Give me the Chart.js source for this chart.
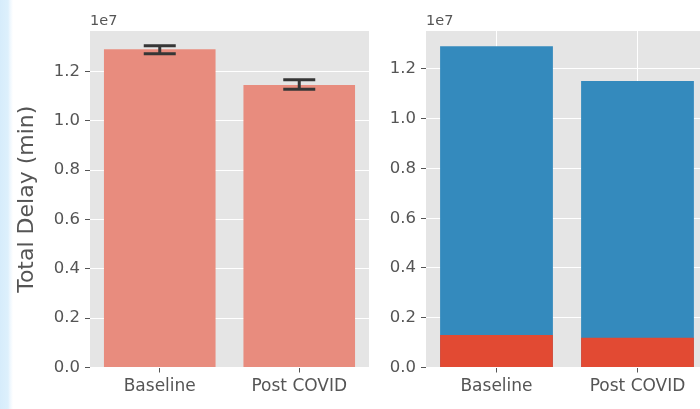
<!DOCTYPE html>
<html>
<head>
<meta charset="utf-8">
<script src="https://cdn.jsdelivr.net/npm/chart.js@4.4.0/dist/chart.umd.min.js"></script>
<style>
  html, body { margin: 0; padding: 0; width: 700px; height: 409px; overflow: hidden; background: #ffffff; }
  #strip { position: absolute; left: 0; top: 0; width: 14px; height: 409px;
           background: linear-gradient(to right, #d6ecfb 0px, #ddf0fc 8px, #eef7fe 10px, #ffffff 13px); }
  #c1 { position: absolute; left: 0; top: 0; }
  #c2 { position: absolute; left: 360px; top: 0; }
</style>
</head>
<body>
<div id="strip"></div>
<canvas id="c1" width="380" height="409"></canvas>
<canvas id="c2" width="360" height="409"></canvas>
<script>
// ---- data ----
const categories = ['Baseline', 'Post COVID'];
const leftTotals = [1.289e7, 1.1446e7];
const leftErrLow = [1.271e7, 1.127e7];
const leftErrHigh = [1.3035e7, 1.166e7];
const rightTotals = [1.291e7, 1.152e7];
const rightRed = [0.1307e7, 0.1198e7];
const yTickValues = [0, 0.2e7, 0.4e7, 0.6e7, 0.8e7, 1.0e7, 1.2e7];
const yTitle = 'Total Delay (min)';
const offsetLabel = '1e7';

const FONT = "'DejaVu Sans', sans-serif";
const TXT = '#555555';

const bgPlugin = {
  id: 'bgPanel',
  beforeDraw(chart) {
    const a = chart.chartArea, ctx = chart.ctx;
    ctx.save();
    ctx.fillStyle = '#E5E5E5';
    ctx.fillRect(a.left, a.top, a.right - a.left, a.bottom - a.top);
    ctx.restore();
  },
  afterDraw(chart) {
    const a = chart.chartArea, ctx = chart.ctx;
    ctx.save();
    ctx.fillStyle = TXT;
    ctx.font = '14.5px ' + FONT;
    ctx.textAlign = 'left';
    ctx.textBaseline = 'alphabetic';
    ctx.fillText(offsetLabel, a.left, 25);
    ctx.restore();
  }
};

const errPlugin = {
  id: 'errBars',
  afterDatasetsDraw(chart) {
    const meta = chart.getDatasetMeta(0), ys = chart.scales.y, ctx = chart.ctx;
    ctx.save();
    ctx.strokeStyle = '#363636';
    ctx.lineWidth = 3;
    ctx.lineCap = 'butt';
    meta.data.forEach((bar, i) => {
      const x = bar.x;
      const yh = ys.getPixelForValue(leftErrHigh[i]);
      const yl = ys.getPixelForValue(leftErrLow[i]);
      ctx.beginPath();
      ctx.moveTo(x, yh); ctx.lineTo(x, yl);
      ctx.moveTo(x - 16, yh); ctx.lineTo(x + 16, yh);
      ctx.moveTo(x - 16, yl); ctx.lineTo(x + 16, yl);
      ctx.stroke();
    });
    ctx.restore();
  }
};

function yScale(max, width, withTitle) {
  return {
    min: 0, max: max,
    afterFit(s) { s.width = width; },
    afterBuildTicks(s) { s.ticks = yTickValues.map(v => ({ value: v })); },
    grid: { color: '#ffffff', lineWidth: 1, tickColor: TXT, tickLength: 5, drawTicks: true },
    border: { display: false },
    ticks: {
      color: TXT, font: { family: FONT, size: 16.5 }, padding: 5,
      callback: v => (v / 1e7).toFixed(1)
    },
    title: {
      display: withTitle, text: yTitle, color: TXT,
      font: { family: FONT, size: 22 }, padding: { top: 14, bottom: 0 }
    }
  };
}

function xScale(gridColor) {
  return {
    offset: true,
    afterFit(s) { s.height = 41.5; },
    grid: { color: gridColor, lineWidth: 1, tickColor: TXT, tickLength: 5, offset: false, drawTicks: true },
    border: { display: false },
    ticks: { color: TXT, font: { family: FONT, size: 17 }, padding: 4 }
  };
}

new Chart(document.getElementById('c1'), {
  type: 'bar',
  data: {
    labels: categories,
    datasets: [{ data: leftTotals, backgroundColor: '#E88C7E', barPercentage: 0.8, categoryPercentage: 1.0 }]
  },
  options: {
    responsive: false, animation: false,
    layout: { padding: { left: 0, top: 31, right: 11, bottom: 0 } },
    plugins: { legend: { display: false }, tooltip: { enabled: false } },
    scales: { x: xScale('rgba(0,0,0,0)'), y: yScale(1.3634e7, 90, true) }
  },
  plugins: [bgPlugin, errPlugin]
});

new Chart(document.getElementById('c2'), {
  type: 'bar',
  data: {
    labels: categories,
    datasets: [
      { data: rightRed, backgroundColor: '#E24A33', barPercentage: 0.8, categoryPercentage: 1.0, grouped: false },
      { data: rightTotals, backgroundColor: '#348ABD', barPercentage: 0.8, categoryPercentage: 1.0, grouped: false }
    ]
  },
  options: {
    responsive: false, animation: false,
    layout: { padding: { left: 0, top: 31, right: 12, bottom: 0 } },
    plugins: { legend: { display: false }, tooltip: { enabled: false } },
    scales: { x: xScale('#ffffff'), y: yScale(1.3527e7, 66, false) }
  },
  plugins: [bgPlugin]
});
</script>
</body>
</html>
